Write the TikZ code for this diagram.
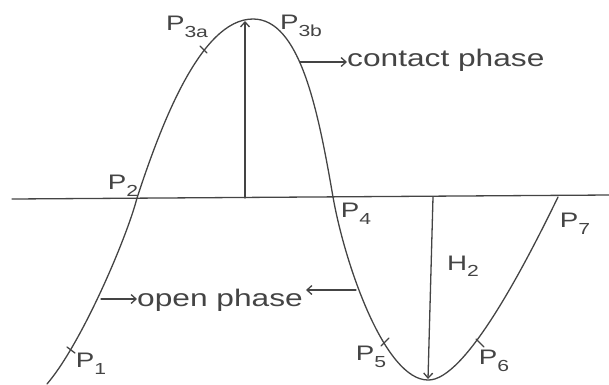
\documentclass[tikz,border=0pt]{standalone}
\usepackage{fontspec}
\newfontfamily\hand[FakeStretch=1.32]{Liberation Sans}
\usetikzlibrary{arrows.meta}
\definecolor{pencil}{RGB}{68,68,68}
\newcommand\Psub[1]{P\raisebox{-0.35em}{\fontsize{16}{16}\selectfont #1}}
\begin{document}
\begin{tikzpicture}[x=1pt,y=-1pt,
  pencilline/.style={draw=pencil,line width=1.3pt,line cap=round,line join=round},
  lbl/.style={font=\hand\fontsize{24}{26}\selectfont,text=pencil,inner sep=0pt},
  plbl/.style={font=\hand\fontsize{21}{23}\selectfont,text=pencil,inner sep=0pt},
  tipped/.style={pencilline,-{Straight Barb[length=5pt,width=9pt]}}]
\useasboundingbox (0,0) rectangle (609,384);
% axis
\coordinate (axL) at (12,199);
\coordinate (axR) at (609,195);
\draw[pencilline] (axL) -- (axR);
% curve
\coordinate (s0) at (47,384);
\coordinate (x1) at (137,198);
\coordinate (top) at (253,19);
\coordinate (x2) at (333,197);
\coordinate (bot) at (428,380);
\coordinate (x3) at (558,197);
\draw[pencilline] (s0) .. controls (82,343) and (127,237) .. (x1)
  .. controls (160,128) and (200,19) .. (top)
  .. controls (300,19) and (318,110) .. (x2)
  .. controls (345,265) and (385,380) .. (bot)
  .. controls (465,381) and (525,265) .. (x3);
% ticks on curve
\draw[pencilline] (67,347) -- (75,353);
\draw[pencilline] (200,46) -- (207,53);
\draw[pencilline] (381,346) -- (389,338);
\draw[pencilline] (476,339) -- (484,347);
% vertical amplitude lines
\coordinate (v1b) at (245,198);
\coordinate (v1t) at (245,21);
\draw[tipped] (v1b) -- (v1t);
\coordinate (v2t) at (433,197);
\coordinate (v2b) at (428,379);
\draw[tipped] (v2t) -- (v2b);
% labels
\node[plbl] (p3a) at (187,27) {\Psub{3a}};
\node[plbl] (p3b) at (301,26) {\Psub{3b}};
\node[plbl] (p2) at (123,186) {\Psub{2}};
\node[plbl] (p4) at (356,214) {\Psub{4}};
\node[plbl] (p7) at (575,224) {\Psub{7}};
\node[plbl] (p1) at (91,364) {\Psub{1}};
\node[plbl] (p5) at (371,357) {\Psub{5}};
\node[plbl] (p6) at (494,361) {\Psub{6}};
\node[plbl] (h2) at (463,266) {H\raisebox{-0.3em}{\fontsize{16}{16}\selectfont 2}};
% contact phase
\coordinate (cA) at (300,62);
\node[lbl,anchor=base west] (contact) at (347,66) {contact phase};
\draw[tipped] (cA) -- (cA -| contact.west);
% open phase
\node[lbl,anchor=base west] (open) at (137,306) {open phase};
\coordinate (oL) at (101,299);
\coordinate (oR) at (356,290);
\draw[tipped] (oL) -- (oL -| open.west);
\draw[tipped] (oR) -- ([xshift=3pt]oR -| open.east);
\end{tikzpicture}
\end{document}
